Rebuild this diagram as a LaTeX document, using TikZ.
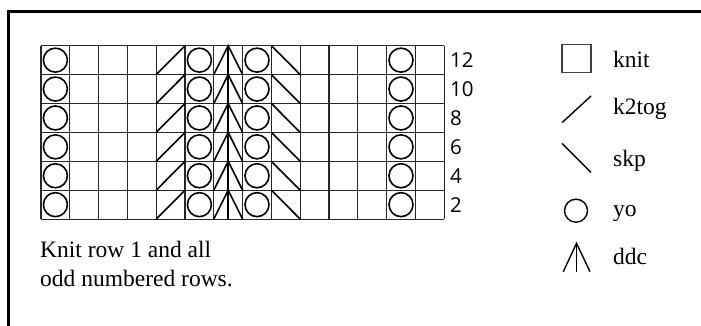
\documentclass[tikz,border=0pt]{standalone}
\usepackage{fontspec}
\setmainfont{Liberation Serif}
\newfontfamily\numfont{Open Sans}
\begin{document}
\begin{tikzpicture}[x=1pt,y=-1pt,
  gridline/.style={line width=1.2pt,draw=black!85},
  sym/.style={line width=1.6pt,draw=black},
  legsym/.style={line width=1.4pt,draw=black},
  legtxt/.style={anchor=base west,inner sep=0pt,font=\fontsize{23.5}{28}\selectfont},
  numtxt/.style={anchor=west,inner sep=0pt,font=\numfont\fontsize{20.5}{24}\selectfont},
  line join=miter]
\useasboundingbox (0,0) rectangle (701,326);
% frame
\draw[line width=2.7pt] (8.7,330) -- (8.7,11.3) -- (705,11.3);
% grid lines
\foreach \i in {0,...,14} \draw[gridline] ({41+\i*28.8},45.7) -- ({41+\i*28.8},219.1);
\foreach \j in {0,...,6} \draw[gridline] (41,{45.7+\j*28.9}) -- (444.2,{45.7+\j*28.9});
% symbols
\foreach \r in {0,...,5} {
  \pgfmathsetmacro\yt{45.7+\r*28.9}
  \pgfmathsetmacro\yb{\yt+28.9}
  \pgfmathsetmacro\ym{\yt+14.45}
  \foreach \c in {0,5,7,12} \draw[sym] ({41+(\c+0.5)*28.8},\ym) circle[radius=12pt];
  \draw[sym] ({41+4*28.8},\yb) -- ({41+5*28.8},\yt);
  \draw[sym] ({41+6*28.8},\yb) -- ({41+6.5*28.8},\yt) -- ({41+7*28.8},\yb);
  \draw[sym] ({41+6.5*28.8},\yt) -- ({41+6.5*28.8},\yb);
  \draw[sym] ({41+8*28.8},\yt) -- ({41+9*28.8},\yb);
}
% row numbers
\foreach \n [count=\k from 0] in {12,10,8,6,4,2}
  \node[numtxt] (row\n) at (450,{45.7+(\k+0.5)*28.9}) {\n};
% note
\node[legtxt] (note1) at (40,257.5) {Knit row 1 and all};
\node[legtxt] (note2) at (40,286) {odd numbered rows.};
% legend
\draw[line width=1.4pt,draw=black!75] (562,44.7) rectangle (591,72.7);
\node[legtxt] (lknit) at (613,68) {knit};
\draw[legsym] (562,122.7) -- (591,96);
\node[legtxt] (lk2tog) at (613,114) {k2tog};
\draw[legsym] (562,143.3) -- (591,172.3);
\node[legtxt] (lskp) at (613,166) {skp};
\draw[legsym] (576,210.7) circle[radius=11.5pt];
\node[legtxt] (lyo) at (613,216) {yo};
\draw[legsym] (563.3,271.7) -- (576.5,243.3) -- (590,271.7);
\draw[legsym] (576.5,243.3) -- (576.5,271.7);
\node[legtxt] (lddc) at (613,264) {ddc};
\end{tikzpicture}
\end{document}
